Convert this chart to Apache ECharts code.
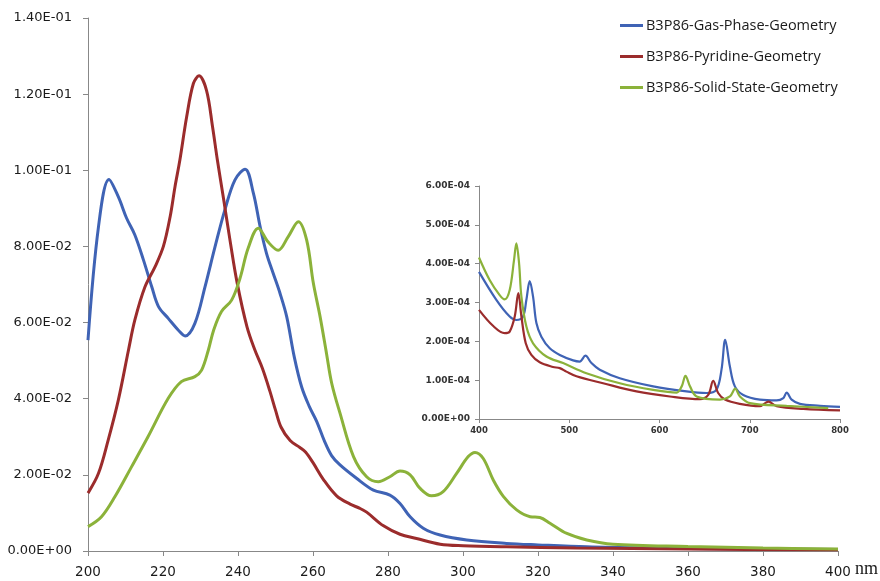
<!DOCTYPE html>
<html>
<head>
<meta charset="utf-8">
<script src="https://cdn.jsdelivr.net/npm/echarts@6/dist/echarts.min.js"></script>
<style>html,body{margin:0;padding:0;background:#fff}#c{width:880px;height:581px}</style>
</head>
<body>
<div id="c"></div>
<script>
// ---- Data (main panel, 200-400 nm) ----
const seriesNames = ['B3P86-Gas-Phase-Geometry', 'B3P86-Pyridine-Geometry', 'B3P86-Solid-State-Geometry'];

const gasX = [200,202.8,205.6,208.1,210.3,212.5,214.8,217,218.8,221.4,224.1,225.9,228.5,231.2,233.9,236.5,239.2,241.9,244.1,245.9,247.6,249.4,251.2,253,255,257,259,261,263,265,267.2,271.6,276.1,280.5,283.2,285.9,289.4,293.9,301,311.6,320,333,350,370,400];
const gasY = [0.0554,0.0852,0.0976,0.093,0.0874,0.083,0.0764,0.0694,0.0642,0.0611,0.058,0.0565,0.0598,0.0694,0.08,0.0896,0.0975,0.1003,0.094,0.0852,0.0782,0.0729,0.0677,0.0615,0.051,0.043,0.038,0.034,0.029,0.025,0.0226,0.0191,0.016,0.0147,0.0125,0.009,0.006,0.0042,0.0029,0.002,0.0016,0.0011,0.0008,0.0006,0.0004];

const pyrX = [200,202.8,205.4,208.1,210.8,212.5,215.2,217.9,220.1,221.9,223.2,224.5,226.3,228.1,229.6,231.6,233.2,234.5,236.2,238,239.8,242.4,244.5,246.5,248.5,250,251.5,253.9,256.5,258,260,262.7,266.3,269.9,272.5,274.3,278.8,283.2,287.6,293.9,300,311.6,330,360,400];
const pyrY = [0.0152,0.0204,0.0292,0.0397,0.0528,0.0607,0.0694,0.0747,0.08,0.0878,0.0957,0.1027,0.114,0.1228,0.1248,0.121,0.1115,0.1027,0.0922,0.0808,0.0703,0.0589,0.0528,0.048,0.042,0.037,0.0325,0.029,0.0272,0.026,0.0232,0.0189,0.0145,0.0123,0.0112,0.0102,0.0066,0.0044,0.0033,0.0018,0.0014,0.0011,0.0008,0.0005,0.0003];

const solX = [200,203.6,207.2,211.6,216,221.4,224.9,228.5,230.3,232.1,233.5,235.6,238.3,240.5,242.7,245.4,248,250.7,253.4,256.1,258.3,260.1,261.9,263.6,265,267.2,270.8,274.3,277.4,280.5,283.2,285.9,288.5,291.6,294.7,298.3,301.4,303.2,305.4,308.1,310.8,314.3,317.9,320.5,323.2,327.7,333,340,360,380,400];
const solY = [0.0064,0.009,0.0143,0.0221,0.03,0.0401,0.0445,0.0458,0.0475,0.0528,0.058,0.0629,0.0659,0.0715,0.0795,0.0848,0.0812,0.079,0.0826,0.0865,0.0817,0.0703,0.0615,0.0519,0.044,0.0362,0.0248,0.0195,0.0182,0.0195,0.021,0.02,0.0165,0.0145,0.0156,0.0204,0.0248,0.0259,0.0243,0.0186,0.0143,0.0108,0.009,0.0088,0.0073,0.0046,0.0029,0.0018,0.0012,0.0008,0.0005];

// ---- Data (inset, 400-800 nm) ----
const gasInX = [400,419.2,434,441.4,448.8,452.5,456.2,459.9,463.6,469.1,478.4,489.5,504.3,511.6,517.9,524.6,533.8,556,593,630,652,663,668.7,672.8,678,683.5,692.8,711.3,729.8,737.2,740.9,746.4,755.6,777.8,800];
const gasInY = [3.79e-4,3.07e-4,2.64e-4,2.55e-4,2.64e-4,3.07e-4,3.55e-4,3.15e-4,2.47e-4,2.12e-4,1.82e-4,1.65e-4,1.51e-4,1.48e-4,1.63e-4,1.44e-4,1.27e-4,1.05e-4,0.84e-4,0.71e-4,0.67e-4,0.75e-4,1.27e-4,2.04e-4,1.35e-4,0.84e-4,0.62e-4,0.50e-4,0.48e-4,0.54e-4,0.68e-4,0.50e-4,0.39e-4,0.34e-4,0.31e-4];

const pyrInX = [400,415.5,428.5,434,439.6,443.6,447,451.8,458,467.3,482,489.5,496.8,508,537.5,574.5,611.5,644.8,654,659.5,665,672.5,689,711.3,720.5,729.8,759.3,800];
const pyrInY = [2.81e-4,2.40e-4,2.21e-4,2.25e-4,2.64e-4,3.24e-4,2.64e-4,1.95e-4,1.65e-4,1.46e-4,1.34e-4,1.31e-4,1.22e-4,1.10e-4,0.92e-4,0.71e-4,0.58e-4,0.51e-4,0.62e-4,0.98e-4,0.67e-4,0.50e-4,0.39e-4,0.33e-4,0.45e-4,0.33e-4,0.26e-4,0.22e-4];

const solInX = [400,411.8,422.9,428.5,434,438.8,441.4,444.4,447,452.5,459.9,474.7,493.2,519,556,593,619,624.6,628.8,633.8,641.1,667,678,683.9,689.1,700.2,740.9,787];
const solInY = [4.16e-4,3.58e-4,3.19e-4,3.08e-4,3.32e-4,4.09e-4,4.52e-4,4.01e-4,3.15e-4,2.38e-4,1.95e-4,1.61e-4,1.44e-4,1.18e-4,0.92e-4,0.75e-4,0.68e-4,0.84e-4,1.11e-4,0.84e-4,0.58e-4,0.50e-4,0.58e-4,0.78e-4,0.58e-4,0.41e-4,0.34e-4,0.28e-4];

const colors = ['#3f63b5', '#9b2c2c', '#8bb23a'];

function sci(v) {
  if (Math.abs(v) < 1e-12) return '0.00E+00';
  let e = Math.floor(Math.log10(Math.abs(v)) + 1e-9);
  let m = v / Math.pow(10, e);
  if (Math.abs(m) >= 9.995) { m /= 10; e += 1; }
  const sign = e < 0 ? '-' : '+';
  const ea = Math.abs(e);
  return m.toFixed(2) + 'E' + sign + (ea < 10 ? '0' : '') + ea;
}
function zip(xs, ys) { return xs.map((x, i) => [x, ys[i]]); }

const FONT = '"Open Sans"';
const AXFONT = '"DejaVu Sans"';
const axisLineStyle = { color: '#888888', width: 1 };
const chart = echarts.init(document.getElementById('c'), null, { renderer: 'canvas' });

function mkLine(name, data, color, xi, yi, width, z) {
  return {
    name: name, type: 'line', data: data, xAxisIndex: xi, yAxisIndex: yi,
    smooth: 0.35, showSymbol: false, symbol: 'none',
    lineStyle: { color: color, width: width }, itemStyle: { color: color },
    z: z, animation: false
  };
}

chart.setOption({
  animation: false,
  backgroundColor: '#ffffff',
  legend: {
    data: seriesNames,
    orient: 'vertical',
    left: 615, top: 13,
    itemWidth: 23, itemHeight: 3, itemGap: 16,
    icon: 'rect',
    textStyle: { fontFamily: FONT, fontSize: 14.5, color: '#1a1a1a', padding: [0, 0, 0, -2] }
  },
  grid: [
    { left: 88, right: 42, top: 18, bottom: 30 },
    { left: 479, right: 40, top: 186, bottom: 162 }
  ],
  xAxis: [
    {
      type: 'value', gridIndex: 0, min: 200, max: 400, interval: 20,
      axisLine: { show: true, lineStyle: axisLineStyle },
      axisTick: { show: true, length: 5, lineStyle: axisLineStyle },
      splitLine: { show: false },
      axisLabel: { fontFamily: AXFONT, fontSize: 13.5, color: '#1a1a1a', margin: 14 }
    },
    {
      type: 'value', gridIndex: 1, min: 400, max: 800, interval: 100,
      axisLine: { show: true, lineStyle: axisLineStyle },
      axisTick: { show: true, length: 4, lineStyle: axisLineStyle },
      splitLine: { show: false },
      axisLabel: { fontFamily: AXFONT, fontSize: 8.5, fontWeight: 'bold', color: '#333', margin: 7 }
    }
  ],
  yAxis: [
    {
      type: 'value', gridIndex: 0, min: 0, max: 0.14, interval: 0.02,
      axisLine: { show: true, lineStyle: axisLineStyle },
      axisTick: { show: true, length: 5, lineStyle: axisLineStyle },
      splitLine: { show: false },
      axisLabel: { fontFamily: AXFONT, fontSize: 13, color: '#1a1a1a', margin: 16, formatter: sci }
    },
    {
      type: 'value', gridIndex: 1, min: 0, max: 6e-4, interval: 1e-4,
      axisLine: { show: true, lineStyle: axisLineStyle },
      axisTick: { show: true, length: 4, lineStyle: axisLineStyle },
      splitLine: { show: false },
      axisLabel: { fontFamily: AXFONT, fontSize: 9, fontWeight: 'bold', color: '#333', margin: 9, formatter: sci }
    }
  ],
  graphic: [
    { type: 'text', left: 855, top: 560, style: { text: 'nm', font: '18px "Liberation Serif"', fill: '#1a1a1a' } }
  ],
  series: [
    mkLine(seriesNames[0], zip(gasX, gasY), colors[0], 0, 0, 3, 3),
    mkLine(seriesNames[1], zip(pyrX, pyrY), colors[1], 0, 0, 3, 4),
    mkLine(seriesNames[2], zip(solX, solY), colors[2], 0, 0, 3, 5),
    mkLine(seriesNames[0], zip(gasInX, gasInY), colors[0], 1, 1, 2.2, 3),
    mkLine(seriesNames[1], zip(pyrInX, pyrInY), colors[1], 1, 1, 2.2, 4),
    mkLine(seriesNames[2], zip(solInX, solInY), colors[2], 1, 1, 2.2, 5)
  ]
});
</script>
</body>
</html>
